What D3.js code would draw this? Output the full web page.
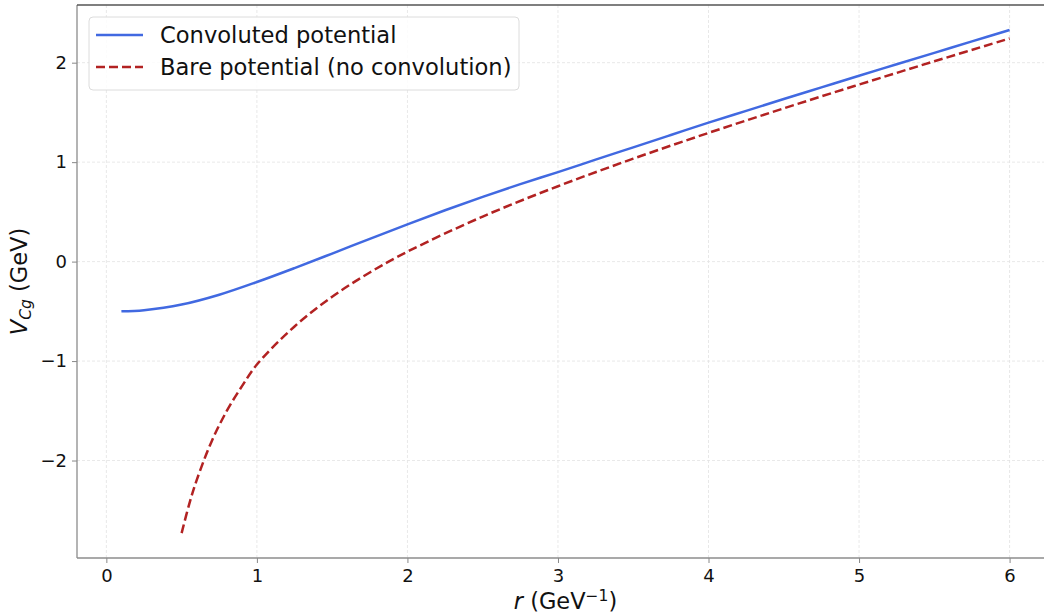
<!DOCTYPE html>
<html>
<head>
<meta charset="utf-8">
<script src="https://cdn.jsdelivr.net/npm/d3@7"></script>
<style>
  body { margin: 0; background: #fff; }
  svg { display: block; font-family: "DejaVu Sans", sans-serif; }
  .tick text { fill: #111; }
</style>
</head>
<body>
<div id="chart"></div>
<script>
// values
var rConv = [0.10, 0.25, 0.50, 0.75, 1.00, 1.25, 1.50, 1.75, 2.00, 2.25, 2.50, 2.75, 3.00,
             3.25, 3.50, 3.75, 4.00, 4.25, 4.50, 4.75, 5.00, 5.25, 5.50, 5.75, 6.00];
var vConv = [-0.500, -0.488, -0.432, -0.333, -0.205, -0.065, 0.081, 0.229, 0.375, 0.516, 0.651, 0.779, 0.900,
             1.025, 1.149, 1.273, 1.397, 1.516, 1.635, 1.752, 1.869, 1.984, 2.099, 2.214, 2.329];

var rBare = [0.50, 0.55, 0.60, 0.70, 0.80, 0.90, 1.00, 1.25, 1.50, 1.75, 2.00, 2.50, 3.00,
             3.50, 4.00, 4.50, 5.00, 5.50, 6.00];
var vBare = [-2.730, -2.441, -2.197, -1.805, -1.501, -1.255, -1.035, -0.652, -0.353, -0.109, 0.100, 0.453, 0.758,
             1.035, 1.294, 1.541, 1.780, 2.014, 2.243];

var xTicks = [0, 1, 2, 3, 4, 5, 6];
var yTicks = [-2, -1, 0, 1, 2];
var seriesNames = ["Convoluted potential", "Bare potential (no convolution)"];

var W = 1044, H = 613;
var margin = { top: 5, right: -10, bottom: 55, left: 77 };
var width = W - margin.left - margin.right,
    height = H - margin.top - margin.bottom;

var svg = d3.select("#chart").append("svg")
    .attr("width", W)
    .attr("height", H);

var g = svg.append("g")
    .attr("transform", "translate(" + margin.left + "," + margin.top + ")");

// scales (matplotlib-like 5% padding)
var x = d3.scaleLinear().domain([-0.195, 6.295]).range([0, width]);
var y = d3.scaleLinear().domain([-2.98, 2.58]).range([height, 0]);

// grid
g.append("g").selectAll("line.vg")
    .data(xTicks).enter().append("line")
    .attr("x1", function(d) { return x(d); })
    .attr("x2", function(d) { return x(d); })
    .attr("y1", 0).attr("y2", height)
    .attr("stroke", "#e2e2e2").attr("stroke-width", 0.8)
    .attr("stroke-dasharray", "3,2");

g.append("g").selectAll("line.hg")
    .data(yTicks).enter().append("line")
    .attr("y1", function(d) { return y(d); })
    .attr("y2", function(d) { return y(d); })
    .attr("x1", 0).attr("x2", width)
    .attr("stroke", "#e2e2e2").attr("stroke-width", 0.8)
    .attr("stroke-dasharray", "3,2");

// axes
var xAxis = d3.axisBottom(x).tickValues(xTicks).tickSize(5).tickPadding(6)
    .tickFormat(d3.format("d"));
var yAxis = d3.axisLeft(y).tickValues(yTicks).tickSize(5).tickPadding(5)
    .tickFormat(d3.format("d"));

var gx = g.append("g")
    .attr("transform", "translate(0," + height + ")")
    .call(xAxis);
var gy = g.append("g").call(yAxis);

[gx, gy].forEach(function(a) {
    a.select(".domain").remove();
    a.selectAll(".tick line").attr("stroke", "#888").attr("stroke-width", 1);
    a.selectAll(".tick text").attr("font-size", 18).attr("font-family", "DejaVu Sans");
});

// spines
g.append("line").attr("x1", 0).attr("x2", 0).attr("y1", 0).attr("y2", height)
    .attr("stroke", "#8c8c8c").attr("stroke-width", 1.3);
g.append("line").attr("x1", 0).attr("x2", width).attr("y1", height).attr("y2", height)
    .attr("stroke", "#8c8c8c").attr("stroke-width", 1.3);
g.append("line").attr("x1", 0).attr("x2", width).attr("y1", 0).attr("y2", 0)
    .attr("stroke", "#555").attr("stroke-width", 1.3);

// lines
var line = d3.line()
    .x(function(d) { return x(d[0]); })
    .y(function(d) { return y(d[1]); })
    .curve(d3.curveCatmullRom);

var convData = rConv.map(function(r, i) { return [r, vConv[i]]; });
var bareData = rBare.map(function(r, i) { return [r, vBare[i]]; });

g.append("path")
    .datum(convData)
    .attr("d", line)
    .attr("fill", "none")
    .attr("stroke", "#4169e1")
    .attr("stroke-width", 2.5);

g.append("path")
    .datum(bareData)
    .attr("d", line)
    .attr("fill", "none")
    .attr("stroke", "#b22222")
    .attr("stroke-width", 2.5)
    .attr("stroke-dasharray", "9,4");

// axis labels
var xl = svg.append("text")
    .attr("x", margin.left + width / 2)
    .attr("y", 609)
    .attr("text-anchor", "middle")
    .attr("font-size", 22.5)
    .attr("fill", "#111");
xl.append("tspan").attr("font-style", "italic").text("r");
xl.append("tspan").text(" (GeV");
xl.append("tspan").attr("font-size", 15.5).attr("dy", -8).text("\u22121");
xl.append("tspan").attr("dy", 8).text(")");

var yl = svg.append("text")
    .attr("transform", "translate(27," + (margin.top + height / 2) + ") rotate(-90)")
    .attr("text-anchor", "middle")
    .attr("font-size", 22.5)
    .attr("fill", "#111");
yl.append("tspan").attr("font-style", "italic").text("V");
yl.append("tspan").attr("font-style", "italic").attr("font-size", 15.5).attr("dy", 4).text("Cg");
yl.append("tspan").attr("dy", -4).text(" (GeV)");

// legend
var leg = g.append("g").attr("transform", "translate(12,12)");
leg.append("rect")
    .attr("width", 430).attr("height", 73)
    .attr("rx", 4).attr("ry", 4)
    .attr("fill", "#fff").attr("fill-opacity", 0.85)
    .attr("stroke", "#dcdcdc").attr("stroke-width", 1);

var legItems = [
    { name: seriesNames[0], color: "#4169e1", dash: null },
    { name: seriesNames[1], color: "#b22222", dash: "9,4" }
];
legItems.forEach(function(d, i) {
    var yy = 18 + i * 32;
    leg.append("line")
        .attr("x1", 7).attr("x2", 54).attr("y1", yy).attr("y2", yy)
        .attr("stroke", d.color).attr("stroke-width", 2.5)
        .attr("stroke-dasharray", d.dash);
    leg.append("text")
        .attr("x", 71).attr("y", yy).attr("dy", "0.36em")
        .attr("font-size", 22.6).attr("fill", "#111")
        .text(d.name);
});
</script>
</body>
</html>
